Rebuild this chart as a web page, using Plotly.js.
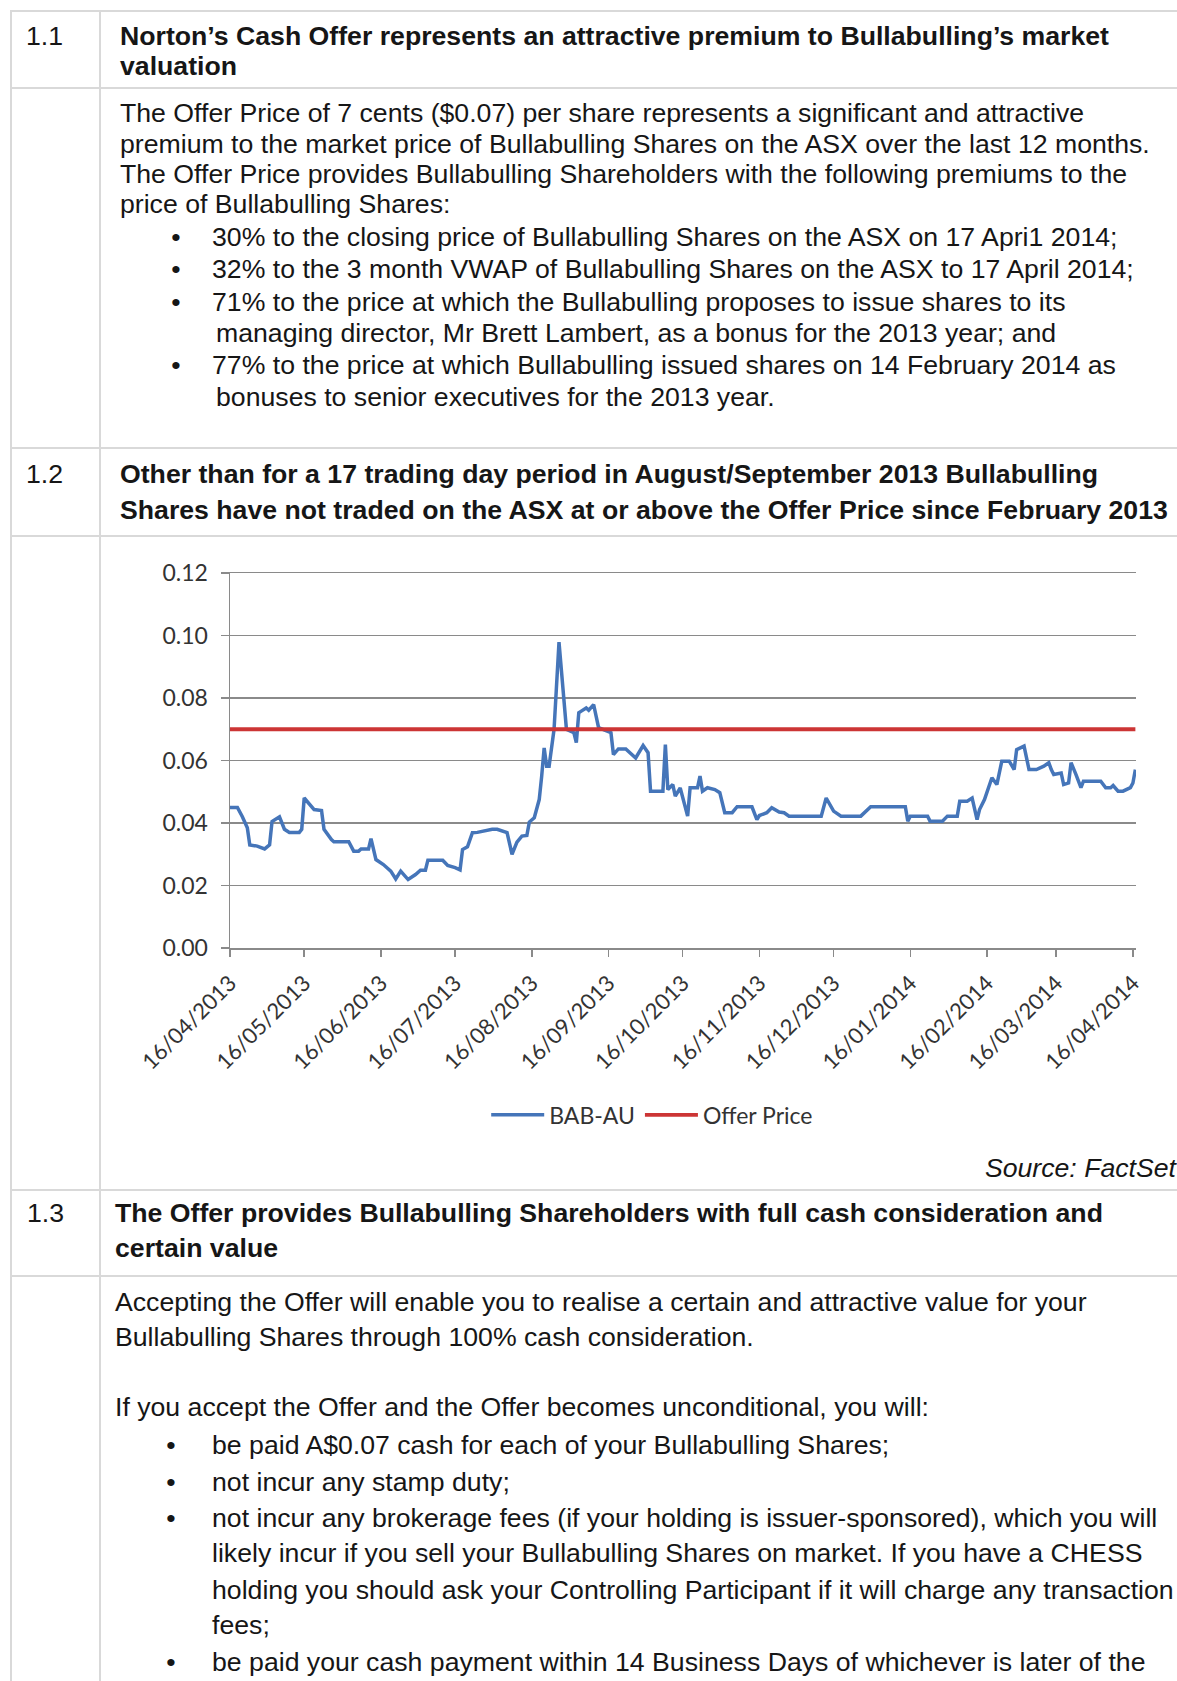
<!DOCTYPE html>
<html>
<head>
<meta charset="utf-8">
<script src="https://cdn.plot.ly/plotly-3.0.1.min.js"></script>
<style>
  html, body { margin: 0; padding: 0; background: #ffffff; }
  body { width: 1177px; height: 1681px; position: relative; overflow: hidden;
         font-family: "Liberation Sans", Arial, sans-serif; color: #161616; }
  .hl { position: absolute; height: 2px; background: #d9d9d9; left: 10px; right: 0; }
  .vl { position: absolute; width: 2px; background: #d9d9d9; top: 11px; bottom: 0; }
  .t { position: absolute; white-space: nowrap; font-size: 26.67px; line-height: 32px; height: 32px; }
  .dot { width: 20px; text-align: center; }
  .b { font-weight: bold; }
  .src { font-style: italic; right: 1px; }
  #chart { position: absolute; left: 102px; top: 540px; width: 1075px; height: 720px; }
</style>
</head>
<body>
<div class="hl" style="top:10px"></div>
<div class="hl" style="top:87px"></div>
<div class="hl" style="top:447px"></div>
<div class="hl" style="top:535px"></div>
<div class="hl" style="top:1189px"></div>
<div class="hl" style="top:1275px"></div>
<div class="vl" style="left:10px"></div>
<div class="vl" style="left:99px"></div>

<div id="text"></div>
<div id="chart"></div>

<script>
// ---------------- data ----------------
const dates = ['2013-04-16','2013-04-19','2013-04-21','2013-04-23','2013-04-24','2013-04-27','2013-04-30','2013-05-02','2013-05-03','2013-05-06',
'2013-05-08','2013-05-10','2013-05-14','2013-05-15','2013-05-16','2013-05-18','2013-05-20','2013-05-23','2013-05-24','2013-05-27',
'2013-05-28','2013-06-03','2013-06-05','2013-06-07','2013-06-08','2013-06-11','2013-06-12','2013-06-14','2013-06-17','2013-06-20',
'2013-06-22','2013-06-24','2013-06-27','2013-06-30','2013-07-02','2013-07-04','2013-07-05','2013-07-11','2013-07-13','2013-07-16',
'2013-07-18','2013-07-19','2013-07-21','2013-07-23','2013-07-25','2013-07-31','2013-08-02','2013-08-06','2013-08-08','2013-08-10',
'2013-08-12','2013-08-14','2013-08-15','2013-08-17','2013-08-19','2013-08-20','2013-08-21','2013-08-22','2013-08-23','2013-08-25',
'2013-08-27','2013-08-30','2013-09-02','2013-09-03','2013-09-04','2013-09-05','2013-09-07','2013-09-08','2013-09-10','2013-09-11',
'2013-09-12','2013-09-17','2013-09-18','2013-09-20','2013-09-23','2013-09-27','2013-09-30','2013-10-02','2013-10-03','2013-10-08',
'2013-10-09','2013-10-10','2013-10-12','2013-10-13','2013-10-15','2013-10-18','2013-10-19','2013-10-22','2013-10-23','2013-10-24',
'2013-10-26','2013-10-29','2013-10-31','2013-11-02','2013-11-05','2013-11-07','2013-11-13','2013-11-15','2013-11-16','2013-11-19',
'2013-11-21','2013-11-24','2013-11-26','2013-11-28','2013-12-11','2013-12-13','2013-12-16','2013-12-19','2013-12-27','2013-12-31',
'2014-01-14','2014-01-15','2014-01-16','2014-01-23','2014-01-24','2014-01-29','2014-01-31','2014-02-04','2014-02-05','2014-02-08',
'2014-02-10','2014-02-12','2014-02-13','2014-02-15','2014-02-18','2014-02-20','2014-02-22','2014-02-25','2014-02-27','2014-02-28',
'2014-03-03','2014-03-05','2014-03-08','2014-03-11','2014-03-13','2014-03-14','2014-03-15','2014-03-18','2014-03-19','2014-03-21',
'2014-03-22','2014-03-24','2014-03-26','2014-03-27','2014-04-03','2014-04-05','2014-04-07','2014-04-08','2014-04-10','2014-04-12',
'2014-04-15','2014-04-16','2014-04-17'];

const babAU = [0.045,0.045,0.042,0.0385,0.033,0.0326,0.0317,0.033,0.0405,0.042,
0.038,0.037,0.037,0.038,0.048,0.046,0.0443,0.044,0.038,0.0347,
0.034,0.034,0.031,0.031,0.0317,0.0317,0.035,0.0283,0.0267,0.0246,
0.0221,0.0246,0.0219,0.0235,0.0249,0.0249,0.0281,0.0281,0.0264,0.0257,
0.025,0.0315,0.0324,0.0369,0.037,0.038,0.038,0.0369,0.030,0.0339,
0.0358,0.036,0.0403,0.0417,0.0475,0.055,0.064,0.0582,0.0582,0.070,
0.0979,0.070,0.0689,0.0657,0.0753,0.0758,0.0768,0.0761,0.0779,0.0742,
0.0705,0.0689,0.0619,0.0637,0.0637,0.0608,0.0648,0.0625,0.0502,0.0502,
0.0651,0.0507,0.0523,0.0486,0.0512,0.0422,0.0513,0.0513,0.055,0.0502,
0.0513,0.0507,0.0497,0.0433,0.0433,0.0452,0.0452,0.0411,0.0424,0.0433,
0.0449,0.0435,0.0433,0.0422,0.0422,0.048,0.0438,0.0422,0.0422,0.0452,
0.0452,0.0406,0.0422,0.0422,0.0406,0.0406,0.0422,0.0422,0.047,0.047,
0.048,0.0411,0.0443,0.0475,0.0545,0.0523,0.0598,0.0598,0.0571,0.0635,
0.0646,0.0571,0.0571,0.0582,0.0593,0.0571,0.0555,0.056,0.0523,0.0528,
0.0593,0.0555,0.0513,0.0534,0.0534,0.0513,0.0513,0.052,0.0502,0.0502,
0.0513,0.0528,0.0571];

const offerPrice = 0.07;
const offerDates = ['2013-04-16', '2014-04-17'];

const tickDates = ['2013-04-16','2013-05-16','2013-06-16','2013-07-16','2013-08-16','2013-09-16','2013-10-16',
                   '2013-11-16','2013-12-16','2014-01-16','2014-02-16','2014-03-16','2014-04-16'];
const tickLabels = ['16/04/2013','16/05/2013','16/06/2013','16/07/2013','16/08/2013','16/09/2013','16/10/2013',
                    '16/11/2013','16/12/2013','16/01/2014','16/02/2014','16/03/2014','16/04/2014'];
const seriesNames = ['BAB-AU', 'Offer Price'];

// ---------------- page text ----------------
const textLines = [
  // [text, x, centerY, class]
  ['1.1', 26, 36, ''],
  ['Norton’s Cash Offer represents an attractive premium to Bullabulling’s market', 120, 36, 'b'],
  ['valuation', 120, 66, 'b'],
  ['The Offer Price of 7 cents ($0.07) per share represents a significant and attractive', 120, 113, ''],
  ['premium to the market price of Bullabulling Shares on the ASX over the last 12 months.', 120, 144, ''],
  ['The Offer Price provides Bullabulling Shareholders with the following premiums to the', 120, 174, ''],
  ['price of Bullabulling Shares:', 120, 204, ''],
  ['•', 166, 237, 'dot'], ['30% to the closing price of Bullabulling Shares on the ASX on 17 Apri1 2014;', 212, 237, ''],
  ['•', 166, 269, 'dot'], ['32% to the 3 month VWAP of Bullabulling Shares on the ASX to 17 April 2014;', 212, 269, ''],
  ['•', 166, 302, 'dot'], ['71% to the price at which the Bullabulling proposes to issue shares to its', 212, 302, ''],
  ['managing director, Mr Brett Lambert, as a bonus for the 2013 year; and', 216, 333, ''],
  ['•', 166, 365, 'dot'], ['77% to the price at which Bullabulling issued shares on 14 February 2014 as', 212, 365, ''],
  ['bonuses to senior executives for the 2013 year.', 216, 397, ''],
  ['1.2', 26, 474, ''],
  ['Other than for a 17 trading day period in August/September 2013 Bullabulling', 120, 474, 'b'],
  ['Shares have not traded on the ASX at or above the Offer Price since February 2013', 120, 510, 'b'],
  ['1.3', 27, 1213, ''],
  ['The Offer provides Bullabulling Shareholders with full cash consideration and', 115, 1213, 'b'],
  ['certain value', 115, 1248, 'b'],
  ['Accepting the Offer will enable you to realise a certain and attractive value for your', 115, 1302, ''],
  ['Bullabulling Shares through 100% cash consideration.', 115, 1337, ''],
  ['If you accept the Offer and the Offer becomes unconditional, you will:', 115, 1407, ''],
  ['•', 161, 1445, 'dot'], ['be paid A$0.07 cash for each of your Bullabulling Shares;', 212, 1445, ''],
  ['•', 161, 1482, 'dot'], ['not incur any stamp duty;', 212, 1482, ''],
  ['•', 161, 1518, 'dot'], ['not incur any brokerage fees (if your holding is issuer-sponsored), which you will', 212, 1518, ''],
  ['likely incur if you sell your Bullabulling Shares on market. If you have a CHESS', 212, 1553, ''],
  ['holding you should ask your Controlling Participant if it will charge any transaction', 212, 1590, ''],
  ['fees;', 212, 1625, ''],
  ['•', 161, 1662, 'dot'], ['be paid your cash payment within 14 Business Days of whichever is later of the', 212, 1662, '']
];
const host = document.getElementById('text');
textLines.forEach(([s, x, cy, cls]) => {
  const d = document.createElement('div');
  d.className = 't ' + cls;
  d.style.left = x + 'px';
  d.style.top = (cy - 16) + 'px';
  d.textContent = s;
  host.appendChild(d);
});
const src = document.createElement('div');
src.className = 't src';
src.style.top = (1168 - 16) + 'px';
src.textContent = 'Source: FactSet';
host.appendChild(src);

// ---------------- chart ----------------
const axisGray = '#8a8a8a';
const chartFont = {family: 'Lato, "Open Sans", sans-serif', size: 23, color: '#333333'};

const traces = [
  {x: dates, y: babAU, name: seriesNames[0], type: 'scatter', mode: 'lines',
   line: {color: '#4575b9', width: 3.5}},
  {x: offerDates, y: [offerPrice, offerPrice], name: seriesNames[1], type: 'scatter', mode: 'lines',
   line: {color: '#cc3535', width: 3.8}}
];

const layout = {
  width: 1075, height: 720,
  margin: {l: 128, r: 41, t: 33, b: 312},
  paper_bgcolor: 'rgba(0,0,0,0)', plot_bgcolor: '#ffffff',
  font: chartFont,
  showlegend: true,
  legend: {orientation: 'h', x: 0.466, xanchor: 'center', y: -0.445, yanchor: 'middle',
           font: {family: chartFont.family, size: 23, color: '#333333'}, itemwidth: 53},
  xaxis: {
    type: 'date', range: ['2013-04-16', '2014-04-17 06:00'],
    tickmode: 'array', tickvals: tickDates, ticktext: tickLabels, tickangle: -45,
    tickfont: {family: chartFont.family, size: 22, color: '#333333'},
    showgrid: false, zeroline: false, automargin: false,
    showline: true, linecolor: axisGray, linewidth: 1.5, mirror: true,
    ticks: 'outside', ticklen: 7, tickcolor: axisGray, tickwidth: 1.5,
    ticklabelstandoff: 5
  },
  yaxis: {
    range: [0, 0.12], dtick: 0.02, tick0: 0, tickformat: '.2f', automargin: false,
    tickfont: {family: chartFont.family, size: 23, color: '#333333'},
    showgrid: true, gridcolor: axisGray, gridwidth: 1.5, zeroline: false,
    showline: true, linecolor: axisGray, linewidth: 1.5,
    ticks: 'outside', ticklen: 8, tickcolor: axisGray, tickwidth: 1.5,
    ticklabelstandoff: 8
  }
};

Plotly.newPlot('chart', traces, layout, {displayModeBar: false, staticPlot: true});
</script>
</body>
</html>
